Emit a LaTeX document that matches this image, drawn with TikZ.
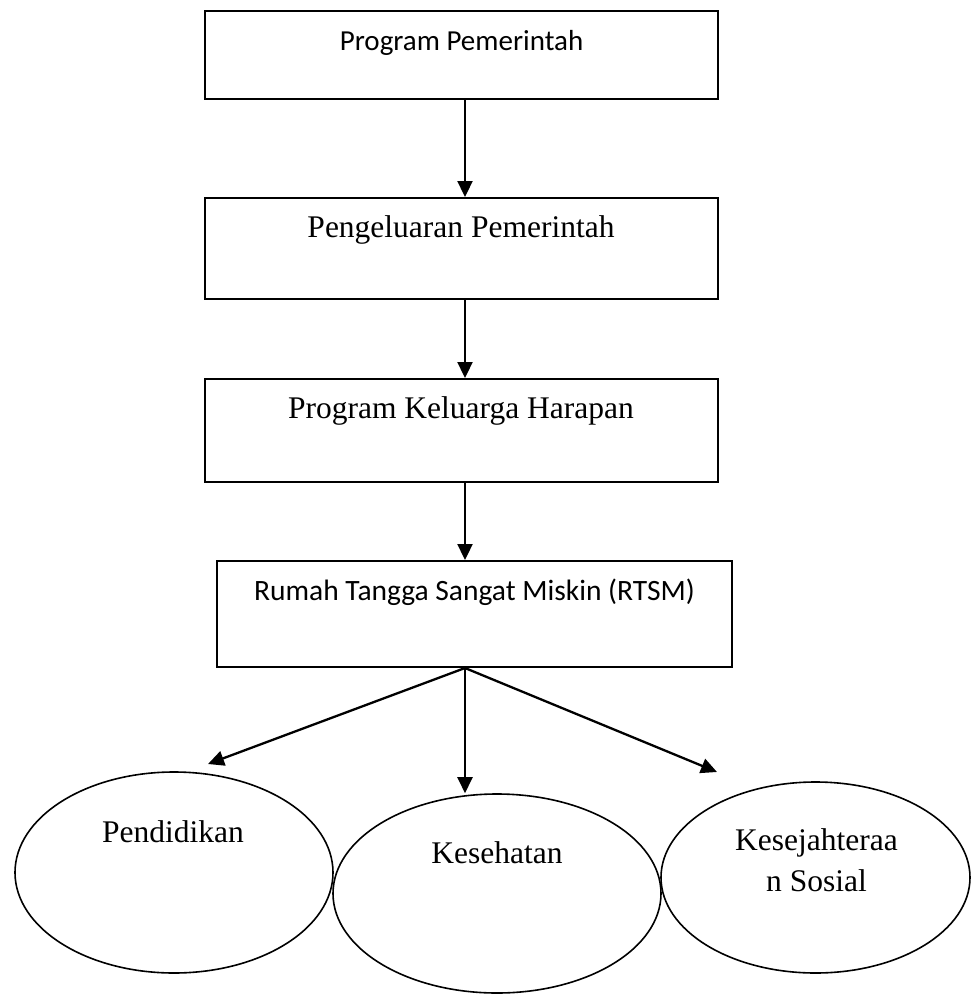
\documentclass[tikz,border=0pt]{standalone}
\usepackage{fontspec}
\setmainfont{Liberation Serif}
\newfontfamily\calibri{Carlito}
\usetikzlibrary{arrows.meta,shapes.geometric}

\tikzset{
  kotak/.style={draw, line width=2pt, inner sep=0pt, minimum width=513pt, text height=39pt, anchor=north},
  elips/.style={draw, ellipse, line width=1.6pt, inner sep=0pt},
  panah/.style={line width=2.3pt, -{Triangle[length=16pt,width=15pt]}},
  teks/.style={font=\fontsize{31.5pt}{41pt}\selectfont, anchor=base, inner sep=0pt, align=center}
}

\begin{document}
\begin{tikzpicture}[x=1pt,y=-1pt]
  \useasboundingbox (0,0) rectangle (971,994);
  \coordinate (sumbu) at (465,0);
  \node[kotak, text depth=49pt, font=\calibri\fontsize{29pt}{35pt}\selectfont] (pp) at (461.5,10) {Program Pemerintah};
    \node[kotak, text depth=62pt, font=\fontsize{31.5pt}{38pt}\selectfont] (pg) at (461,197) {Pengeluaran Pemerintah};
  \node[kotak, text depth=64pt, font=\fontsize{31.5pt}{38pt}\selectfont] (pkh) at (461,378) {Program Keluarga Harapan};
    \node[kotak, minimum width=515pt, text depth=67pt, font=\calibri\fontsize{29.5pt}{35pt}\selectfont] (rtsm) at (474.5,560) {Rumah Tangga Sangat Miskin (RTSM)};

  \node[elips, minimum width=318pt, minimum height=201pt] (pend) at (174,872.5) {};
    \node[elips, minimum width=328pt, minimum height=199pt] (kes) at (497,893.5) {};
  \node[elips, minimum width=309pt, minimum height=191pt] (sos) at (815.5,877.5) {};
  \node[teks] (tpend) at (173,842) {Pendidikan};
    \node[teks] (tkes) at (497,863) {Kesehatan};
  \node[teks] (tsos) at (816.5,891) {Kesejahteraa\\n Sosial};

  \coordinate (u1) at (208,764);
  \coordinate (u3) at (717,772);
  \draw[panah] (pp.south -| sumbu) -- (pg.north -| sumbu);
    \draw[panah] (pg.south -| sumbu) -- (pkh.north -| sumbu);
  \draw[panah] (pkh.south -| sumbu) -- (rtsm.north -| sumbu);
    \draw[panah] (rtsm.south -| sumbu) -- (u1);
  \draw[panah] (rtsm.south -| sumbu) -- (kes.north -| sumbu);
    \draw[panah] (rtsm.south -| sumbu) -- (u3);
\end{tikzpicture}
\end{document}
